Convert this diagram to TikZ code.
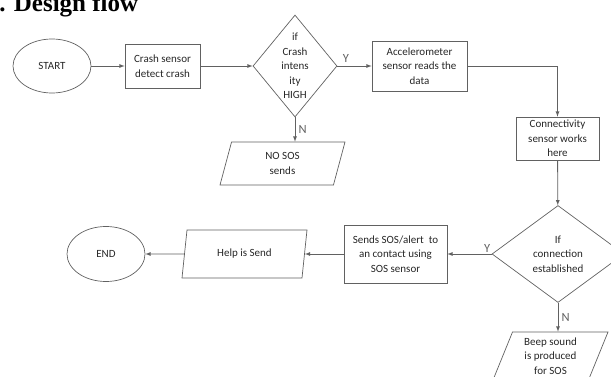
\documentclass[tikz,border=0pt]{standalone}
\usepackage{fontspec}
\setmainfont{Carlito}
\newfontfamily\headfont{Liberation Serif}
\usetikzlibrary{shapes.geometric}

\definecolor{linegray}{gray}{0.38}
\tikzstyle{term}=[draw=linegray, ellipse, minimum width=78pt, minimum height=54pt, inner sep=0pt]
\tikzstyle{proc}=[draw=linegray, rectangle, align=center, inner sep=2pt]
\tikzstyle{io}=[draw=linegray, trapezium, trapezium left angle=62, trapezium right angle=118, trapezium stretches body, align=center, minimum height=48pt, inner sep=0pt]
\tikzstyle{test}=[draw=linegray, diamond, inner sep=0pt]
\tikzstyle{flow}=[-latex, linegray, line width=0.8pt]
\tikzstyle{yn}=[font=\fontsize{12.5}{14}\selectfont]

\begin{document}
\begin{tikzpicture}[x=1pt, y=-1pt, font=\fontsize{11}{14.5}\selectfont, text=black!85, line width=0.7pt]
    \clip (0,0) rectangle (611,377);
    \node[anchor=base west, inner sep=0pt, text=black, font=\headfont\bfseries\fontsize{25}{30}\selectfont] (title) at (-1,12) {. Design flow};
    % first row
    \node[term] (start) at (52, 66) {START};
    \node[proc, minimum width=75pt, minimum height=44pt] (crash) at (162.5, 66) {Crash sensor\\detect crash};
    \node[test, minimum width=84pt, minimum height=102pt, label={[align=center]center:if\\Crash\\intens\\ity\\HIGH}] (d1) at (295, 66) {};
    \node[proc, minimum width=95pt, minimum height=50pt] (accel) at (419.5, 66) {Accelerometer\\sensor reads the\\data};
    \node[io, minimum width=125pt, minimum height=43pt] (nosos) at (282.5, 163.5) {NO SOS\\sends};
    \node[proc, minimum width=83pt, minimum height=43pt] (conn) at (557.5, 138.5) {Connectivity\\sensor works\\here};
    % second row
    \node[test, minimum width=132pt, minimum height=97pt, label={[align=center]center:If\\connection\\established}] (d2) at (558, 254) {};
    \node[proc, minimum width=103pt, minimum height=58pt] (sends) at (395.5, 254) {Sends SOS/alert\ \ to\\an contact using\\SOS sensor};
    \node[io, minimum width=125pt] (help) at (244.5, 254) {Help is Send};
    \node[term, minimum height=55pt] (stop) at (106, 254) {END};
    \node[io, minimum width=115pt] (beep) at (550.5, 356) {Beep sound\\is produced\\for SOS};
    % connectors
    \draw[flow] (start) -- (crash);
    \draw[flow] (crash) -- (d1);
    \draw[flow] (d1) -- node[yn, near start, above] {Y} (accel);
    \draw[flow] (d1) -- node[yn, right] {N} (d1 |- nosos.north);
    \draw[flow] (accel) -| (conn);
    \draw[flow] (conn) -- (d2);
    \draw[flow] (d2) -- node[yn, pos=0, above left, inner sep=1pt] {Y} (sends);
    \draw[flow] (d2) -- node[yn, right] {N} (d2 |- beep.north);
    \draw[flow] (sends) -- (help);
    \draw[flow] (help) -- (stop);
\end{tikzpicture}
\end{document}
